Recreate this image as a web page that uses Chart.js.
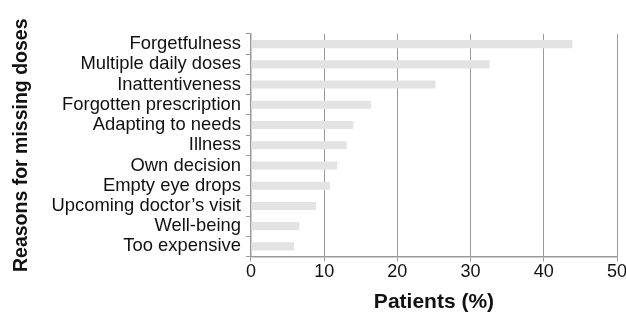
<!DOCTYPE html>
<html>
<head>
<meta charset="utf-8">
<script src="https://cdn.jsdelivr.net/npm/chart.js@4/dist/chart.umd.min.js"></script>
<style>
html,body{margin:0;padding:0;background:#fff;}
#wrap{width:626px;height:315px;position:relative;}
</style>
</head>
<body>
<div id="wrap"><canvas id="c" width="626" height="315"></canvas></div>
<script>
const categories = ["Forgetfulness","Multiple daily doses","Inattentiveness","Forgotten prescription","Adapting to needs","Illness","Own decision","Empty eye drops","Upcoming doctor\u2019s visit","Well-being","Too expensive"];
const patientsPct = [43.9, 32.6, 25.2, 16.4, 14.0, 13.1, 11.8, 10.8, 8.9, 6.6, 5.9];
const xTicks = [0, 10, 20, 30, 40, 50];
const xTitle = "Patients (%)";
const yTitle = "Reasons for missing doses";

const FONT = "'Liberation Sans', Arial, sans-serif";

new Chart(document.getElementById('c'), {
  type: 'bar',
  data: {
    labels: categories,
    datasets: [{
      data: patientsPct,
      backgroundColor: '#e3e3e3',
      borderWidth: 0,
      barPercentage: 0.4,
      categoryPercentage: 1.0
    }]
  },
  options: {
    indexAxis: 'y',
    responsive: false,
    animation: false,
    devicePixelRatio: 1,
    layout: { padding: { top: 34, right: 0, bottom: 2.5, left: 0 } },
    plugins: { legend: { display: false }, tooltip: { enabled: false } },
    scales: {
      x: {
        min: 0, max: 50,
        afterBuildTicks: (s) => { s.ticks = xTicks.map(v => ({ value: v })); },
        afterFit: (s) => { s.paddingRight = 9; },
        grid: { color: '#999', lineWidth: 1, drawTicks: true, tickLength: 5, tickColor: '#999' },
        border: { display: true, color: '#999', width: 1.5 },
        ticks: { color: '#111', font: { family: FONT, size: 18, lineHeight: 1.0 }, padding: 2 },
        title: { display: true, text: xTitle, color: '#111', font: { family: FONT, size: 21, weight: 'bold', lineHeight: 1.0 }, padding: { top: 8, bottom: 0 } }
      },
      y: {
        grid: { offset: true, drawOnChartArea: false, drawTicks: true, tickLength: 5, tickColor: '#999' },
        border: { display: true, color: '#999', width: 1.5 },
        ticks: { color: '#111', font: { family: FONT, size: 18.4 }, padding: 5, autoSkip: false },
        title: { display: true, text: yTitle, color: '#111', font: { family: FONT, size: 19.5, weight: 'bold', lineHeight: 1.0 }, padding: { top: 12, bottom: 15 } }
      }
    }
  }
});
</script>
</body>
</html>
